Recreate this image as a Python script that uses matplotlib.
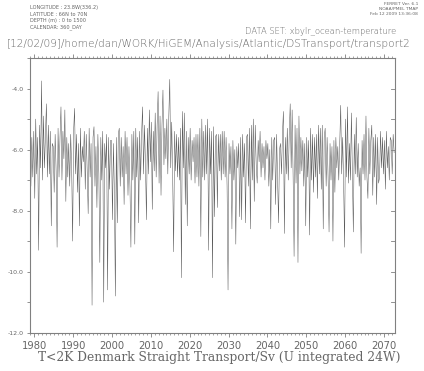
import matplotlib
matplotlib.use("Agg")
import matplotlib.pyplot as plt
from matplotlib.ticker import MultipleLocator, FixedLocator, FuncFormatter
import numpy as np

plt.rcParams['axes.unicode_minus'] = False

start_year = 1978.85
step = 0.25
# quarterly estimates, one row per year (1979..2072)
transport = [
    -4.2, -7.2, -5.6, -6.9,
    -5.4, -7.6, -5.0, -6.8,
    -5.6, -9.3, -5.2, -6.6,
    -3.75, -7.0, -4.9, -6.6,
    -5.5, -4.5, -6.9, -5.2,
    -6.8, -5.4, -8.5, -5.8,
    -5.9, -7.4, -5.5, -6.7,
    -9.2, -5.3, -6.9, -5.6,
    -4.6, -7.0, -5.4, -6.3,
    -4.7, -7.7, -5.6, -6.9,
    -5.8, -7.2, -5.5, -6.6,
    -9.0, -5.4, -4.65, -6.8,
    -5.5, -7.4, -5.8, -8.5,
    -5.3, -6.9, -5.9, -6.4,
    -5.4, -7.3, -5.5, -6.7,
    -8.1, -5.3, -6.9, -5.8,
    -11.1, -5.6, -5.25, -7.2,
    -5.9, -7.9, -5.5, -6.8,
    -9.7, -5.6, -7.0, -5.4,
    -11.0, -5.8, -6.6, -5.5,
    -10.6, -5.6, -7.3, -5.7,
    -5.7, -8.3, -5.8, -7.4,
    -10.8, -5.6, -8.4, -5.5,
    -5.3, -7.2, -5.6, -6.9,
    -5.9, -7.8, -5.4, -6.8,
    -5.6, -7.5, -5.9, -7.2,
    -9.2, -5.5, -7.0, -5.4,
    -9.1, -5.3, -6.9, -5.6,
    -8.4, -5.4, -7.0, -5.5,
    -4.6, -6.8, -5.2, -6.5,
    -8.3, -5.3, -6.8, -4.7,
    -6.4, -5.1, -7.96, -5.4,
    -6.7, -4.8, -6.9, -5.2,
    -4.1, -7.1, -4.9, -7.5,
    -5.2, -4.05, -6.5, -5.3,
    -6.3, -5.0, -6.8, -4.9,
    -3.7, -6.6, -5.1, -6.9,
    -9.35, -5.4, -6.7, -5.5,
    -6.9, -5.6, -7.0, -5.3,
    -10.2, -4.75, -6.6, -4.8,
    -7.8, -5.4, -8.5, -5.6,
    -6.8, -5.3, -7.0, -5.7,
    -6.4, -5.6, -7.1, -5.5,
    -6.9, -5.5, -7.2, -5.3,
    -8.85, -5.0, -6.9, -5.4,
    -7.0, -5.2, -6.8, -5.0,
    -9.3, -5.3, -6.8, -5.4,
    -10.2, -5.25, -8.2, -5.6,
    -5.5, -7.9, -5.5, -6.7,
    -5.5, -7.0, -5.4, -6.8,
    -5.4, -6.9, -5.6, -7.2,
    -10.6, -5.8, -6.8, -5.9,
    -8.6, -5.7, -7.0, -6.0,
    -9.1, -5.9, -6.6, -5.8,
    -8.2, -5.6, -8.3, -5.5,
    -6.9, -5.8, -8.4, -5.6,
    -5.5, -7.2, -5.3, -8.6,
    -5.2, -7.0, -5.0, -7.7,
    -5.2, -6.5, -7.1, -5.7,
    -6.4, -5.4, -6.9, -5.8,
    -6.6, -5.9, -7.0, -5.7,
    -6.3, -5.8, -7.2, -6.0,
    -8.6, -5.6, -7.0, -5.7,
    -5.6, -7.8, -5.5, -6.9,
    -8.4, -6.0, -5.8, -6.8,
    -5.5, -4.75, -8.75, -5.6,
    -6.8, -5.3, -7.0, -5.5,
    -4.5, -6.6, -4.7, -6.9,
    -9.5, -5.2, -7.1, -5.3,
    -9.7, -4.9, -6.8, -5.6,
    -6.7, -5.7, -7.2, -5.8,
    -8.5, -5.6, -6.9, -5.7,
    -8.8, -5.3, -7.0, -5.5,
    -7.4, -5.6, -6.9, -5.5,
    -7.6, -5.2, -6.8, -5.3,
    -7.3, -5.2, -8.6, -5.6,
    -5.3, -7.2, -5.6, -6.9,
    -8.7, -5.8, -7.0, -5.9,
    -9.0, -5.7, -7.4, -5.6,
    -6.6, -5.9, -7.0, -5.8,
    -4.55, -6.8, -5.6, -7.1,
    -9.2, -5.0, -6.9, -4.6,
    -7.1, -5.8, -7.0, -4.8,
    -6.7, -8.7, -5.5, -6.8,
    -4.95, -6.9, -5.8, -7.2,
    -6.6, -9.4, -5.7, -6.8,
    -5.5, -7.0, -4.9, -6.9,
    -7.6, -5.3, -6.8, -5.7,
    -5.2, -7.5, -5.6, -6.9,
    -5.5, -7.8, -5.6, -7.1,
    -6.9, -5.4, -6.6, -5.6,
    -6.8, -5.7, -7.3, -5.4,
    -6.6, -5.9, -7.0, -5.6,
    -5.7, -6.8, -5.5, -6.1,
]
times = start_year + step * np.arange(len(transport))

x_major = [1980, 1990, 2000, 2010, 2020, 2030, 2040, 2050, 2060, 2070]
y_major = [-12.0, -10.0, -8.0, -6.0, -4.0]

title = "[12/02/09]/home/dan/WORK/HiGEM/Analysis/Atlantic/DSTransport/transport2"
dataset = "DATA SET: xbylr_ocean-temperature"
xlabel = "T<2K Denmark Straight Transport/Sv (U integrated 24W)"
header_left = ["LONGITUDE : 23.8W(336.2)", "LATITUDE : 66N to 70N",
               "DEPTH (m) : 0 to 1500", "CALENDAR: 360_DAY"]
header_right = ["FERRET Ver. 6.1", "NOAA/PMEL TMAP", "Feb 12 2009 13:36:08"]

W, H = 424, 371
fig = plt.figure(figsize=(W / 100, H / 100), dpi=100)
ax = fig.add_axes([29.7 / W, 1 - 332.7 / H, (395.3 - 29.7) / W, (332.7 - 58) / H])

ax.plot(times, transport, color='#555555', lw=0.35, antialiased=True)
ax.set_xlim(1978.8, 2072.9)
ax.set_ylim(-12.0, -3.0)

frame_c = '#808080'
text_c = '#666666'
for s in ax.spines.values():
    s.set_color(frame_c)
    s.set_linewidth(0.8)

ax.xaxis.set_major_locator(FixedLocator(x_major))
ax.xaxis.set_minor_locator(MultipleLocator(1))
ax.xaxis.set_major_formatter(FuncFormatter(lambda v, p: "%d" % v))
ax.tick_params(axis='x', which='major', direction='out', length=3.0, width=0.6,
               color=frame_c, top=True, bottom=True, labelsize=7.2, labelcolor=text_c, pad=3)
ax.tick_params(axis='x', which='minor', direction='out', length=1.6, width=0.5,
               color=frame_c, top=True, bottom=True)

ax.yaxis.set_major_locator(FixedLocator(y_major))
ax.yaxis.set_minor_locator(MultipleLocator(1))
ax.yaxis.set_major_formatter(FuncFormatter(lambda v, p: "%.1f" % v))
ax.tick_params(axis='y', which='both', direction='out', length=2.5, width=0.6,
               color=frame_c, left=True, right=False, labelsize=4.5, labelcolor=text_c, pad=2)
# right-side inward ticks
for yv in np.arange(-12, -2.9, 1.0):
    ax.plot([1 - 0.012, 1], [yv, yv], transform=ax.get_yaxis_transform(),
            color=frame_c, lw=0.6, clip_on=False)

fig.text(7 / W, 1 - 44 / H, title, fontsize=7.6, color=text_c, ha='left', va='center',
         family='DejaVu Sans', fontweight='light')
fig.text(396 / W, 1 - 31 / H, dataset, fontsize=6.0, color=text_c, ha='right', va='center',
         family='DejaVu Sans', fontweight='light')
for i, t in enumerate(header_left):
    fig.text(30 / W, 1 - (8 + 6.3 * i) / H, t, fontsize=3.6, color=text_c, ha='left',
             va='center', family='DejaVu Sans')
for i, t in enumerate(header_right):
    fig.text(418 / W, 1 - (4 + 5 * i) / H, t, fontsize=3.2, color=text_c, ha='right',
             va='center', family='DejaVu Sans')
fig.text(219 / W, 1 - 357 / H, xlabel, fontsize=8.8, color=text_c, ha='center',
         va='center', family='DejaVu Serif', fontweight='light')

fig.savefig("out.png", dpi=100, facecolor='white')
